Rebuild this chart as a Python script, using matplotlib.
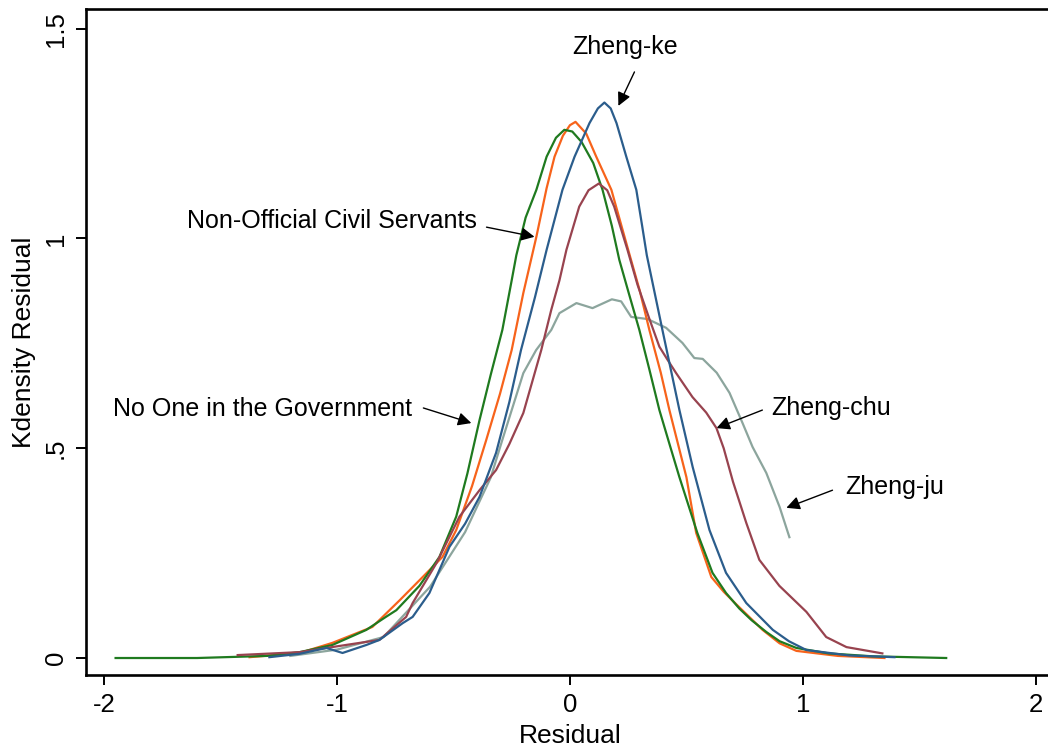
import matplotlib
matplotlib.use("Agg")
import matplotlib.pyplot as plt
import numpy as np

plt.rcParams['font.family'] = ['Liberation Sans', 'DejaVu Sans']

# kdensity curves (x = residual, y = density)
none_x = [-1.95, -1.6, -1.3, -1.16, -1.02, -0.874, -0.79, -0.745, -0.646, -0.56, -0.488, -0.44, -0.388,
          -0.34, -0.29, -0.25, -0.23, -0.19, -0.144, -0.10, -0.06, -0.024, 0.01, 0.05, 0.1, 0.14, 0.18,
          0.212, 0.255, 0.298, 0.34, 0.384, 0.43, 0.47, 0.547, 0.612, 0.67, 0.727, 0.78, 0.843, 0.9,
          0.972, 1.11, 1.3, 1.615]
none_y = [0.0, 0.0, 0.005, 0.014, 0.031, 0.067, 0.098, 0.114, 0.172, 0.241, 0.337, 0.44, 0.567,
          0.675, 0.782, 0.9, 0.96, 1.05, 1.116, 1.195, 1.24, 1.259, 1.255, 1.23, 1.18, 1.116, 1.03,
          0.949, 0.865, 0.782, 0.69, 0.591, 0.505, 0.431, 0.298, 0.203, 0.155, 0.118,
          0.09, 0.062, 0.04, 0.024, 0.011, 0.004, 0.0]

nonoff_x = [-1.375, -1.16, -1.02, -0.848, -0.73, -0.632, -0.547, -0.488, -0.42, -0.359, -0.3, -0.25,
            -0.2, -0.144, -0.1, -0.066, -0.03, 0.0, 0.024, 0.07, 0.113, 0.178, 0.25, 0.3, 0.341, 0.39,
            0.427, 0.5, 0.542, 0.607, 0.66, 0.714, 0.827, 0.9, 0.972, 1.15, 1.35]
nonoff_y = [0.002, 0.012, 0.036, 0.074, 0.138, 0.193, 0.241, 0.305, 0.41, 0.52, 0.63, 0.734,
            0.87, 1.004, 1.12, 1.195, 1.245, 1.27, 1.278, 1.25, 1.195, 1.116, 0.973, 0.875, 0.782, 0.68,
            0.591, 0.431, 0.298, 0.193, 0.158, 0.128, 0.067, 0.035, 0.017, 0.005, 0.0]

ke_x = [-1.29, -1.16, -1.045, -0.976, -0.874, -0.818, -0.718, -0.675, -0.603, -0.517, -0.45, -0.388,
        -0.317, -0.26, -0.21, -0.15, -0.10, -0.032, 0.02, 0.084, 0.12, 0.148, 0.175, 0.2, 0.242, 0.285,
        0.31, 0.33, 0.397, 0.47, 0.527, 0.599, 0.67, 0.757, 0.871, 0.94, 1.015, 1.2, 1.393]
ke_y = [0.002, 0.01, 0.024, 0.012, 0.031, 0.043, 0.083, 0.098, 0.155, 0.265, 0.32, 0.384,
        0.489, 0.61, 0.734, 0.86, 0.973, 1.116, 1.195, 1.275, 1.31, 1.324, 1.31, 1.275, 1.195, 1.116,
        1.03, 0.96, 0.782, 0.591, 0.455, 0.305, 0.203, 0.131, 0.067, 0.04, 0.019, 0.006, 0.002]

chu_x = [-1.426, -1.16, -1.045, -0.903, -0.818, -0.703, -0.675, -0.573, -0.474, -0.388, -0.317, -0.26,
         -0.2, -0.123, -0.08, -0.045, -0.015, 0.04, 0.08, 0.124, 0.16, 0.19, 0.247, 0.29, 0.34, 0.384,
         0.42, 0.456, 0.526, 0.585, 0.629, 0.66, 0.70, 0.757, 0.813, 0.899, 1.015, 1.1, 1.187, 1.341]
chu_y = [0.007, 0.014, 0.024, 0.036, 0.043, 0.098, 0.131, 0.226, 0.337, 0.4, 0.448, 0.51,
         0.584, 0.734, 0.83, 0.9, 0.973, 1.076, 1.115, 1.131, 1.115, 1.076, 0.973, 0.89, 0.81, 0.742,
         0.71, 0.679, 0.622, 0.585, 0.548, 0.5, 0.42, 0.322, 0.234, 0.172, 0.11, 0.05, 0.026, 0.011]

ju_x = [-1.2, -1.0, -0.8, -0.6, -0.45, -0.34, -0.29, -0.2, -0.145, -0.08, -0.045, 0.028, 0.097,
        0.18, 0.22, 0.263, 0.333, 0.413, 0.483, 0.534, 0.57, 0.63, 0.685, 0.741, 0.784, 0.843, 0.9, 0.942]
ju_y = [0.005, 0.02, 0.05, 0.17, 0.3, 0.43, 0.52, 0.679, 0.734, 0.782, 0.822, 0.846, 0.834,
        0.855, 0.85, 0.813, 0.808, 0.787, 0.751, 0.715, 0.713, 0.68, 0.632, 0.56, 0.503, 0.441, 0.36, 0.288]

xticks = [-2, -1, 0, 1, 2]
yticks = [0, 0.5, 1, 1.5]
ytick_labels = ['0', '.5', '1', '1.5']

fig = plt.figure(figsize=(10.48, 7.53), dpi=100)
ax = fig.add_axes([86 / 1048, 78 / 753, 969 / 1048, 666 / 753])

lw = 1.6
ax.plot(ju_x, ju_y, color='#8ca59d', lw=lw, zorder=1)
ax.plot(nonoff_x, nonoff_y, color='#f7631b', lw=lw, zorder=2)
ax.plot(none_x, none_y, color='#1f7a1f', lw=lw, zorder=3)
ax.plot(chu_x, chu_y, color='#98434f', lw=lw, zorder=4)
ax.plot(ke_x, ke_y, color='#2b5d8c', lw=lw, zorder=5)

ax.set_xlim(-2.077, 2.082)
ax.set_ylim(-0.0405, 1.547)

ax.set_xticks(xticks)
ax.set_xticklabels([str(t) for t in xticks])
ax.set_yticks(yticks)
ax.set_yticklabels(ytick_labels, rotation=90, va='center')
ax.tick_params(direction='out', length=7, width=1.4, labelsize=18.5, pad=6)

for s in ax.spines.values():
    s.set_linewidth(1.9)

ax.set_xlabel('Residual', fontsize=19, labelpad=5)
ax.set_ylabel('Kdensity Residual', fontsize=19, labelpad=6)

# labels and their arrows
arrow = dict(arrowstyle='-|>', color='black', lw=1.0, mutation_scale=20, shrinkA=0, shrinkB=0)
fs = 18
ax.text(0.238, 1.456, 'Zheng-ke', fontsize=fs, ha='center', va='center')
ax.annotate('', xy=(0.208, 1.316), xytext=(0.277, 1.397), arrowprops=arrow)
ax.text(-0.401, 1.042, 'Non-Official Civil Servants', fontsize=fs, ha='right', va='center')
ax.annotate('', xy=(-0.152, 1.004), xytext=(-0.358, 1.027), arrowprops=arrow)
ax.text(-0.676, 0.594, 'No One in the Government', fontsize=fs, ha='right', va='center')
ax.annotate('', xy=(-0.423, 0.56), xytext=(-0.629, 0.596), arrowprops=arrow)
ax.text(0.865, 0.596, 'Zheng-chu', fontsize=fs, ha='left', va='center')
ax.annotate('', xy=(0.629, 0.548), xytext=(0.826, 0.591), arrowprops=arrow)
ax.text(1.182, 0.408, 'Zheng-ju', fontsize=fs, ha='left', va='center')
ax.annotate('', xy=(0.929, 0.358), xytext=(1.127, 0.40), arrowprops=arrow)

fig.savefig('out.png', dpi=100)
